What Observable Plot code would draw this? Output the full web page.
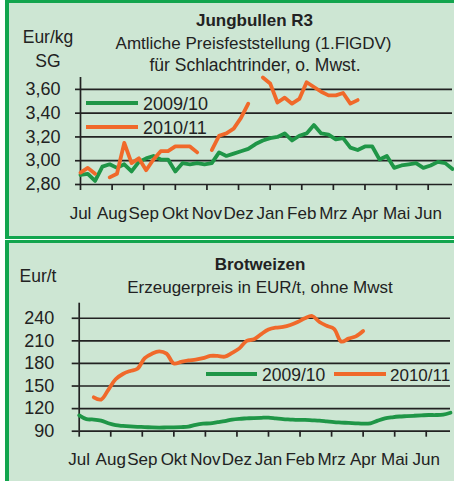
<!DOCTYPE html>
<html>
<head>
<meta charset="utf-8">
<script src="https://cdn.jsdelivr.net/npm/d3@7"></script>
<script src="https://cdn.jsdelivr.net/npm/@observablehq/plot@0.6"></script>
<style>
  html, body { margin: 0; padding: 0; background: #ffffff; }
  body { width: 454px; height: 481px; position: relative; overflow: hidden; font-family: "Liberation Sans", Arial, sans-serif; }
  .panel { position: absolute; background: #cde6d3; border-style: solid; border-color: #12a54e; box-sizing: border-box; }
  .abs { position: absolute; left: 0; }
  svg { overflow: visible; }
</style>
</head>
<body>
<div class="panel" style="left:5px; top:0px; width:460px; height:239px; border-width:3px 0 3px 4px;"></div>
<div class="panel" style="left:5px; top:240px; width:460px; height:250px; border-width:3px 0 0 4px;"></div>
<div id="top" class="abs" style="top:0px;"></div>
<div id="bottom" class="abs" style="top:240px;"></div>
<svg id="overlay" class="abs" style="top:0px;" width="454" height="481"></svg>
<script>
// ---------- data ----------
const months = ["Jul", "Aug", "Sep", "Okt", "Nov", "Dez", "Jan", "Feb", "Mrz", "Apr", "Mai", "Jun"];
const seriesNames = ["2009/10", "2010/11"];

// Jungbullen R3, Eur/kg SG, weekly values starting in July
const bullen0910 = [2.88, 2.89, 2.83, 2.95, 2.97, 2.94, 2.97, 2.91, 2.99, 3.02, 3.04, 3.01, 3.01,
  2.91, 2.98, 2.97, 2.98, 2.97, 2.98, 3.07, 3.04, 3.06, 3.08, 3.10, 3.14, 3.17, 3.19, 3.20,
  3.23, 3.17, 3.21, 3.23, 3.30, 3.23, 3.22, 3.18, 3.19, 3.11, 3.09, 3.12, 3.12, 3.01, 3.04,
  2.94, 2.96, 2.97, 2.98, 2.94, 2.96, 2.99, 2.98, 2.93];
const bullen1011 = [2.90, 2.94, 2.89, null, 2.86, 2.89, 3.15, 2.98, 3.02, 2.92, 3.01, 3.08, 3.08,
  3.12, 3.12, 3.12, 3.07, null, 3.09, 3.21, 3.23, 3.27, 3.36, 3.48, null, 3.70, 3.65, 3.49,
  3.53, 3.48, 3.52, 3.66, 3.62, 3.58, 3.55, 3.55, 3.57, 3.48, 3.51];
const bullenTicks = [2.8, 3.0, 3.2, 3.4, 3.6];

// Brotweizen, Eur/t, weekly values starting in July
const weizen0910 = [111, 106, 105.5, 104, 100.5, 98, 97, 96.3, 95.8, 95.5, 95, 94.8, 95, 95.2,
  95.5, 96, 98.5, 100, 100.5, 102, 103.5, 105.5, 106.5, 107, 107.5, 107.8, 108, 107, 106,
  105.5, 105, 105, 104.5, 104, 103, 102, 101.5, 101, 100.5, 100, 100.5, 104, 107, 108.5,
  109.5, 110, 110.5, 111, 111.5, 111.5, 112, 114.5];
const weizen1011 = [null, null, 135, 132, 145, 159, 166, 170, 173, 187, 193, 196, 193, 180,
  182, 184, 185, 187, 190, 190, 189, 194, 200, 210, 212, 219, 225, 227.5, 228.5, 231, 235,
  240, 243, 235, 230, 226, 209, 213, 216, 223];
const weizenTicks = [90, 120, 150, 180, 210, 240];

// ---------- helpers ----------
const weeksPerMonth = 52 / 12;
const toRows = (vals, name) => vals.map((v, i) => ({x: i / weeksPerMonth, y: v, s: name}));
const green = "#1f9647", orange = "#f0692a", ink = "#222222";
const font = "Liberation Sans, Arial, sans-serif";

function chart({a, b, ticks, yDomain, fmt, ml, mr, mt, mb, h, ytick, ypad, curve}) {
  return Plot.plot({
    width: 454, height: h,
    marginLeft: ml, marginRight: mr, marginTop: mt, marginBottom: mb,
    style: {fontFamily: font, color: ink, background: "transparent", overflow: "visible"},
    x: {domain: [0, 51 / weeksPerMonth]},
    y: {domain: yDomain},
    marks: [
      Plot.ruleY(ticks, {stroke: ink, strokeWidth: 1.7}),
      Plot.ruleX([0], {y1: yDomain[0], y2: yDomain[1], stroke: ink, strokeWidth: 1.7}),
      Plot.axisY(ticks, {tickSize: ytick, tickPadding: ypad, tickFormat: fmt, fontSize: 18, strokeWidth: 1.7, label: null}),
      Plot.axisX(d3.range(12), {tickSize: 6, tickPadding: 16, tickFormat: i => months[i], fontSize: 17, strokeWidth: 1.7, label: null}),
      Plot.line(toRows(a, seriesNames[0]), {x: "x", y: "y", stroke: green, strokeWidth: 3.8, curve}),
      Plot.line(toRows(b, seriesNames[1]), {x: "x", y: "y", stroke: orange, strokeWidth: 3.8, curve})
    ]
  });
}

document.getElementById("top").append(chart({
  a: bullen0910, b: bullen1011, ticks: bullenTicks, yDomain: [2.8, 3.7],
  fmt: d => d.toFixed(2).replace(".", ","),
  ml: 80, mr: 2, mt: 77, mb: 56, h: 240, ytick: 5, ypad: 15, curve: "linear"
}));
document.getElementById("bottom").append(chart({
  a: weizen0910, b: weizen1011, ticks: weizenTicks, yDomain: [90, 260],
  fmt: d => String(d),
  ml: 78.7, mr: 4, mt: 62.7, mb: 50.3, h: 241, ytick: 7, ypad: 18, curve: "catmull-rom"
}));

// ---------- titles & legends ----------
const svg = d3.select("#overlay").style("font-family", font).style("fill", ink);
const text = (x, y, s, size, weight, anchor) =>
  svg.append("text").attr("x", x).attr("y", y).attr("font-size", size)
    .attr("font-weight", weight || "normal").attr("text-anchor", anchor || "middle").attr("fill", ink).text(s);

text(254.5, 26, "Jungbullen R3", 17, "bold");
text(253.5, 49, "Amtliche Preisfeststellung (1.FlGDV)", 17);
text(255, 71, "für Schlachtrinder, o. Mwst.", 17.5);
text(48, 42.5, "Eur/kg", 17.5);
text(48, 67, "SG", 17.5);

text(260, 270, "Brotweizen", 17, "bold");
text(260, 293, "Erzeugerpreis in EUR/t, ohne Mwst", 17);
text(38, 282, "Eur/t", 17.5);

const legendLine = (x1, x2, y, c) => svg.append("line").attr("x1", x1).attr("x2", x2)
  .attr("y1", y).attr("y2", y).attr("stroke", c).attr("stroke-width", 4);

legendLine(86, 138, 103, green);
text(143, 110, seriesNames[0], 18, "normal", "start");
legendLine(86, 138, 127, orange);
text(143, 134, seriesNames[1], 18, "normal", "start");

legendLine(206, 257, 374, green);
text(262, 380.5, seriesNames[0], 17.5, "normal", "start");
legendLine(334, 386, 374, orange);
text(390, 380.5, seriesNames[1], 17, "normal", "start");
</script>
</body>
</html>
